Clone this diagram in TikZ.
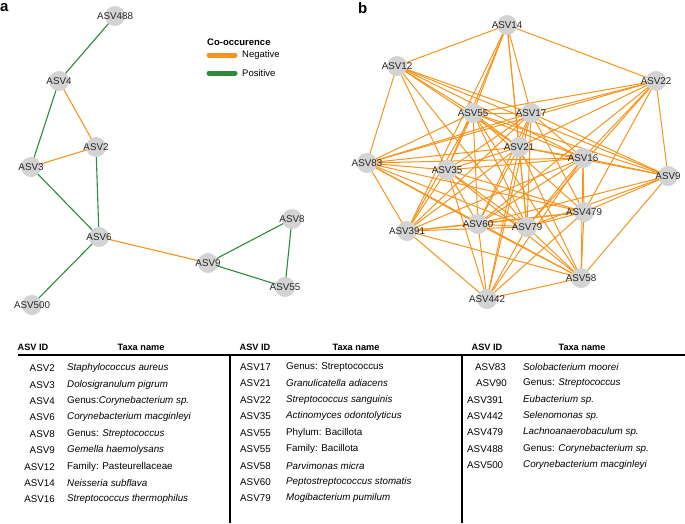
\documentclass[tikz,border=0pt]{standalone}
\usepackage{fontspec}
\setmainfont{Liberation Sans}
\definecolor{negcol}{HTML}{F7941D}
\definecolor{poscol}{HTML}{2E8B3A}
\definecolor{nodegray}{HTML}{D3D3D3}
\pgfdeclarelayer{bg}
\pgfdeclarelayer{paper}
\pgfsetlayers{paper,bg,main}
\tikzset{
  asv/.style={circle, fill=nodegray, minimum size=20pt, inner sep=0pt},
  lbl/.style={font=\fontsize{9.8}{11}\selectfont, inner sep=0pt, text=black!85},
  negedge/.style={draw=negcol, line width=1.1pt},
  posedge/.style={draw=poscol, line width=1.1pt},
  panel/.style={font=\fontsize{15}{16}\selectfont\bfseries, inner sep=0pt},
  legtitle/.style={font=\fontsize{9.5}{11}\selectfont\bfseries, inner sep=0pt, anchor=west},
  legtext/.style={font=\fontsize{9.5}{11}\selectfont, inner sep=0pt, anchor=west},
  legline/.style={line width=5pt, line cap=round},
  thead/.style={font=\fontsize{9.2}{11}\selectfont\bfseries, inner sep=0pt},
  tid/.style={font=\fontsize{9.8}{11}\selectfont, inner sep=0pt},
  ttaxa/.style={font=\fontsize{9.8}{11}\selectfont, inner sep=0pt, anchor=west},
  rule/.style={line width=1.3pt, draw=black}
}
\newcommand{\asvnode}[3]{\node[asv] (#1) at (#2) {}; \node[lbl] at (#1) {#3};}
\begin{document}
\begin{tikzpicture}[x=1pt,y=-1pt]
\useasboundingbox (0,0) rectangle (685,523);
\begin{pgfonlayer}{paper}
\fill[white] (0,0) rectangle (685,523);
\end{pgfonlayer}

% panel labels
\node[panel, anchor=west] (pa) at (0,8) {a};
\node[panel, anchor=west] (pb) at (358,8) {b};

% ---------------- network a ----------------
\asvnode{a488}{115,16}{ASV488}
\asvnode{a4}{59,81}{ASV4}
\asvnode{a2}{96,147}{ASV2}
\asvnode{a3}{31,167}{ASV3}
\asvnode{a6}{99,237}{ASV6}
\asvnode{a9}{208,263}{ASV9}
\asvnode{a8}{292,219}{ASV8}
\asvnode{a55}{285,287}{ASV55}
\asvnode{a500}{32,305}{ASV500}

\begin{pgfonlayer}{bg}
\draw[posedge] (a488.center) -- (a4.center);
\draw[negedge] (a4.center) -- (a2.center);
\draw[posedge] (a4.center) -- (a3.center);
\draw[negedge] (a3.center) -- (a2.center);
\draw[posedge] (a2.center) -- (a6.center);
\draw[posedge] (a3.center) -- (a6.center);
\draw[posedge] (a6.center) -- (a500.center);
\draw[negedge] (a6.center) -- (a9.center);
\draw[posedge] (a9.center) -- (a8.center);
\draw[posedge] (a9.center) -- (a55.center);
\draw[posedge] (a8.center) -- (a55.center);
\end{pgfonlayer}

% legend
\node[legtitle] (lt) at (207,42) {Co-occurence};
\coordinate (ln1) at (209,55);
\coordinate (ln2) at (235,55);
\coordinate (lp1) at (209,73);
\coordinate (lp2) at (235,73);
\draw[legline, draw=negcol] (ln1) -- (ln2);
\draw[legline, draw=poscol] (lp1) -- (lp2);
\node[legtext] (lneg) at (242,55) {Negative};
\node[legtext] (lpos) at (242,73) {Positive};

% ---------------- network b ----------------
\asvnode{b14}{507,25}{ASV14}
\asvnode{b12}{397,66}{ASV12}
\asvnode{b22}{656,81}{ASV22}
\asvnode{b55}{473,113}{ASV55}
\asvnode{b17}{531,113}{ASV17}
\asvnode{b21}{519,147}{ASV21}
\asvnode{b16}{583,158}{ASV16}
\asvnode{b83}{367,163}{ASV83}
\asvnode{b35}{447,170}{ASV35}
\asvnode{b9}{668,176}{ASV9}
\asvnode{b479}{584,212}{ASV479}
\asvnode{b60}{478,224}{ASV60}
\asvnode{b79}{527,227}{ASV79}
\asvnode{b391}{407,231}{ASV391}
\asvnode{b58}{581,278}{ASV58}
\asvnode{b442}{487,299}{ASV442}

\begin{pgfonlayer}{bg}
\foreach \u/\v in {
 b12/b14, b12/b83, b12/b35, b12/b55, b12/b17, b12/b21, b12/b16, b12/b9, b12/b79,
 b14/b22, b14/b55, b14/b35, b14/b391, b14/b17, b14/b21, b14/b79,
 b22/b55, b22/b17, b22/b83, b22/b21, b22/b16, b22/b479, b22/b9, b22/b60, b22/b79,
 b55/b17, b55/b83, b55/b35, b55/b391, b55/b60, b55/b79, b55/b21, b55/b16, b55/b9, b55/b58, b55/b479,
 b17/b83, b17/b21, b17/b35, b17/b391, b17/b60, b17/b79, b17/b16, b17/b479, b17/b442, b17/b9,
 b21/b83, b21/b35, b21/b16, b21/b391, b21/b60, b21/b79, b21/b58, b21/b442, b21/b9,
 b16/b83, b16/b35, b16/b9, b16/b479, b16/b60, b16/b79, b16/b391, b16/b442, b16/b58,
 b83/b35, b83/b391, b83/b60, b83/b79, b83/b479, b83/b58,
 b35/b391, b35/b60, b35/b79, b35/b479, b35/b58, b35/b442,
 b9/b479, b9/b60, b9/b58, b9/b79,
 b479/b60, b479/b79, b479/b391, b479/b442, b479/b58,
 b60/b79, b60/b391, b60/b442, b60/b58,
 b79/b391, b79/b442, b79/b58,
 b391/b442, b391/b58,
 b442/b58}
 {\draw[negedge, line width=1pt] (\u.center) -- (\v.center);}
\end{pgfonlayer}

% ---------------- table ----------------
\coordinate (hl1) at (18,355);
\coordinate (hl2) at (685,355);
\draw[rule] (hl1) -- (hl2);
\coordinate (v1t) at (230,355);
\coordinate (v1b) at (230,523);
\coordinate (v2t) at (462,355);
\coordinate (v2b) at (462,523);
\draw[rule] (v1t) -- (v1b);
\draw[rule] (v2t) -- (v2b);

\node[thead] (h1a) at (33,347) {ASV ID};
\node[thead] (h1b) at (141,347) {Taxa name};
\node[thead] (h2a) at (255,347) {ASV ID};
\node[thead] (h2b) at (356,347) {Taxa name};
\node[thead] (h3a) at (487,347) {ASV ID};
\node[thead] (h3b) at (582,347) {Taxa name};

% column 1
\foreach \y/\id/\tx [count=\i] in {
 368/ASV2/\textit{Staphylococcus aureus},
 385/ASV3/\textit{Dolosigranulum pigrum},
 401/ASV4/{Genus:\textit{Corynebacterium sp.}},
 417/ASV6/\textit{Corynebacterium macginleyi},
 434/ASV8/{Genus: \textit{Streptococcus}},
 450/ASV9/\textit{Gemella haemolysans},
 467/ASV12/{Family: Pasteurellaceae},
 483/ASV14/\textit{Neisseria subflava},
 499/ASV16/\textit{Streptococcus thermophilus}}
 {\node[tid, anchor=east] (c1id\i) at (55,\y) {\id};
  \node[ttaxa] (c1tx\i) at (67,\y) {\tx};}

% column 2
\foreach \y/\id/\tx [count=\i] in {
 367/ASV17/{Genus: Streptococcus},
 383/ASV21/\textit{Granulicatella adiacens},
 400/ASV22/\textit{Streptococcus sanguinis},
 416/ASV35/\textit{Actinomyces odontolyticus},
 433/ASV55/{Phylum: Bacillota},
 449/ASV55/{Family: Bacillota},
 466/ASV58/\textit{Parvimonas micra},
 482/ASV60/\textit{Peptostreptococcus stomatis},
 498/ASV79/\textit{Mogibacterium pumilum}}
 {\node[tid, anchor=west] (c2id\i) at (240,\y) {\id};
  \node[ttaxa] (c2tx\i) at (286,\y) {\tx};}

% column 3
\foreach \y/\id/\x/\tx [count=\i] in {
 367/ASV83/475/\textit{Solobacterium moorei},
 383/ASV90/476/{Genus: \textit{Streptococcus}},
 400/ASV391/467/\textit{Eubacterium sp.},
 416/ASV442/467/\textit{Selenomonas sp.},
 432/ASV479/467/\textit{Lachnoanaerobaculum sp.},
 449/ASV488/467/{Genus: \textit{Corynebacterium sp.}},
 465/ASV500/467/\textit{Corynebacterium macginleyi}}
 {\node[tid, anchor=west] (c3id\i) at (\x,\y) {\id};
  \node[ttaxa] (c3tx\i) at (523,\y) {\tx};}

\end{tikzpicture}
\end{document}
